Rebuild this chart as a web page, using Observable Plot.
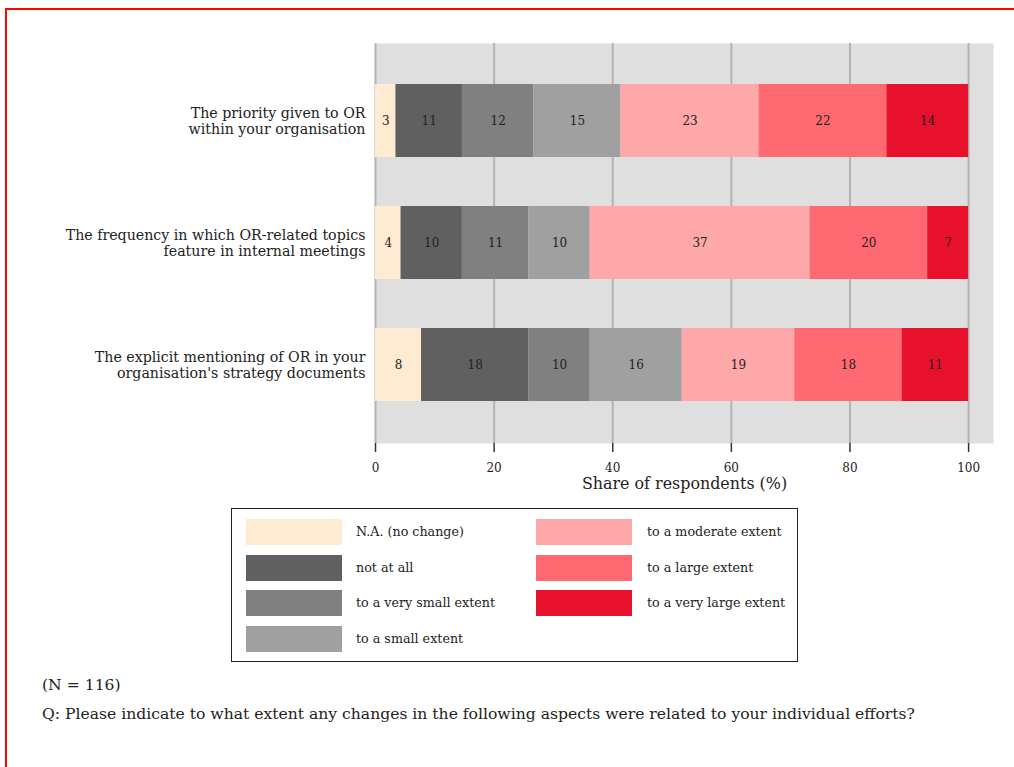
<!DOCTYPE html>
<html>
<head>
<meta charset="utf-8">
<script src="https://cdn.jsdelivr.net/npm/d3@7"></script>
<script src="https://cdn.jsdelivr.net/npm/@observablehq/plot@0.6"></script>
<style>
  html, body { margin: 0; padding: 0; background: #fff; overflow: hidden; width: 1014px; height: 767px; }
  body { font-family: "DejaVu Serif", serif; color: #222; position: relative; }
  #frame { position: absolute; left: 5px; top: 8px; width: 1200px; height: 1000px; border-left: 2px solid #ff0000; border-top: 2px solid #ff0000; }
  #chart { position: absolute; left: 0; top: 0; }
  #legend { position: absolute; left: 231px; top: 508px; width: 567px; height: 154px; box-sizing: border-box; border: 1.5px solid #222; }
  .sw { position: absolute; width: 96px; height: 26px; }
  .lt { position: absolute; font-size: 12.7px; line-height: 26px; white-space: nowrap; color: #222; }
  .cap { position: absolute; left: 42px; font-size: 15.6px; white-space: nowrap; color: #222; }
</style>
</head>
<body>
<div id="frame"></div>
<div id="chart"></div>
<div id="legend"></div>
<div class="cap" style="top:676px">(N = 116)</div>
<div class="cap" style="top:705px">Q: Please indicate to what extent any changes in the following aspects were related to your individual efforts?</div>
<script>
const items = [
  "The priority given to OR\nwithin your organisation",
  "The frequency in which OR-related topics\nfeature in internal meetings",
  "The explicit mentioning of OR in your\norganisation's strategy documents"
];
const levels = [
  "N.A. (no change)",
  "not at all",
  "to a very small extent",
  "to a small extent",
  "to a moderate extent",
  "to a large extent",
  "to a very large extent"
];
const colors = ["#FFEAD2", "#606060", "#808080", "#A0A0A0", "#FFA8AA", "#FF6972", "#E8112D"];
// shares (%) per item, in level order
const priority  = [3.45, 11.21, 12.07, 14.66, 23.28, 21.55, 13.79];
const frequency = [4.31, 10.34, 11.21, 10.34, 37.07, 19.83, 6.90];
const strategy  = [7.76, 18.10, 10.34, 15.52, 18.97, 18.10, 11.21];
const xTicks = [0, 20, 40, 60, 80, 100];
const xLabel = "Share of respondents (%)";

const series = [priority, frequency, strategy];
const data = [];
items.forEach((item, i) => levels.forEach((level, j) => data.push({item, level, value: series[i][j]})));

const chart = Plot.plot({
  width: 1014,
  height: 500,
  marginLeft: 375,
  marginRight: 21,
  marginTop: 43,
  marginBottom: 57,
  style: {fontFamily: "DejaVu Serif", fontSize: "14px", color: "#222", background: "transparent"},
  x: {domain: [0, 104.2]},
  y: {domain: items, paddingInner: 0.4, paddingOuter: 0.333},
  color: {domain: levels, range: colors},
  marks: [
    Plot.frame({fill: "#dfdfdf", stroke: null}),
    Plot.ruleX(xTicks, {stroke: "#b3b3b3", strokeWidth: 2}),
    Plot.barX(data, {x: "value", y: "item", fill: "level"}),
    Plot.text(data, Plot.stackX({x: "value", y: "item", text: d => String(Math.round(d.value)), fill: "#222", fontSize: 12})),
    Plot.axisX({ticks: xTicks, tickSize: 9, tickPadding: 11, stroke: "#333", strokeWidth: 1.5, fontSize: 12, label: null}),
    Plot.text([xLabel], {frameAnchor: "bottom", dy: 45, fontSize: 15.9, fill: "#222"}),
    Plot.axisY({tickSize: 0, tickPadding: 10, fontSize: 14.2, label: null, lineHeight: 1.13})
  ]
});
document.getElementById("chart").appendChild(chart);

const legend = document.getElementById("legend");
const rowTops = [10, 46, 81, 117];
levels.forEach((lv, i) => {
  const col = i < 4 ? 0 : 1;
  const row = i < 4 ? i : i - 4;
  const sw = document.createElement("div");
  sw.className = "sw";
  sw.style.left = (col ? 304 : 14) + "px";
  sw.style.top = rowTops[row] + "px";
  sw.style.background = colors[i];
  legend.appendChild(sw);
  const t = document.createElement("div");
  t.className = "lt";
  t.style.left = (col ? 415 : 124) + "px";
  t.style.top = rowTops[row] + "px";
  t.textContent = lv;
  legend.appendChild(t);
});
</script>
</body>
</html>
